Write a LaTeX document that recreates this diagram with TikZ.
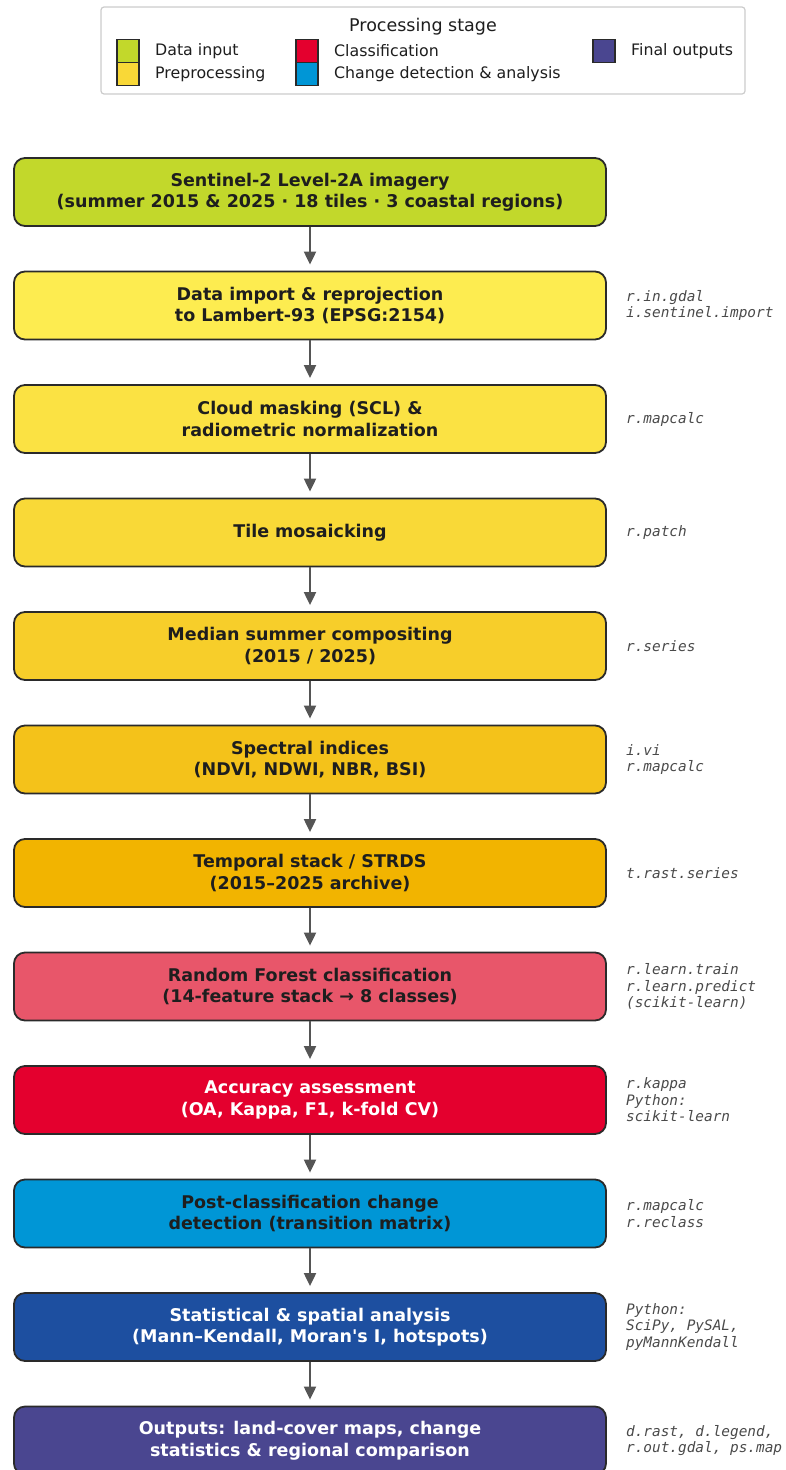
\documentclass[tikz,border=0pt]{standalone}
\usepackage{fontspec}
\setmainfont{DejaVu Sans}
\newfontfamily\toolfont{DejaVu Sans Mono}
\usetikzlibrary{positioning,arrows.meta}

\definecolor{stInput}{HTML}{C2D82B}
\definecolor{stPreA}{HTML}{FDEC50}
\definecolor{stPreB}{HTML}{FBE243}
\definecolor{stPreC}{HTML}{F9D937}
\definecolor{stPreD}{HTML}{F7CE2A}
\definecolor{stPreE}{HTML}{F4C21A}
\definecolor{stPreF}{HTML}{F2B400}
\definecolor{stClassA}{HTML}{E8566A}
\definecolor{stClass}{HTML}{E4002E}
\definecolor{stChange}{HTML}{0096D6}
\definecolor{stStats}{HTML}{1D4FA0}
\definecolor{stOut}{HTML}{4A4690}
\definecolor{stPre}{HTML}{F9D837}
\definecolor{boxline}{HTML}{2A2A2A}
\definecolor{darktext}{HTML}{1E1E1E}
\definecolor{toolgray}{HTML}{4A4A4A}
\definecolor{arrowgray}{HTML}{555555}
\definecolor{legendline}{HTML}{CCCCCC}

\tikzset{
    stagebox/.style={draw=boxline, line width=1.8pt, rounded corners=11pt,
        minimum width=592pt, minimum height=68pt, align=center, inner sep=0pt,
        text=darktext, font=\fontsize{17.5}{21.5}\selectfont\bfseries},
    toollabel/.style={align=left, inner sep=0pt, text=toolgray,
        font=\fontsize{14.4}{16.6}\selectfont\toolfont\itshape},
    legendtext/.style={anchor=west, inner sep=0pt, text=darktext,
        font=\fontsize{15.8}{19}\selectfont},
    flow/.style={-{Triangle[length=13pt,width=12pt]}, line width=2pt,
        draw=arrowgray, shorten >=6pt}
}

\begin{document}
\begin{tikzpicture}[x=1pt,y=-1pt]
                \useasboundingbox (0,0) rectangle (785,1470);

                % Legend
                \draw[legendline, line width=1.2pt, rounded corners=3pt, fill=white] (101,7) rectangle (745,94);
                \node[legendtext, anchor=center, font=\fontsize{17.5}{21}\selectfont] (legtitle) at (423,27) {Processing stage};
                \foreach \i/\col/\x/\y/\name in {1/stInput/117/51/Data input, 2/stPre/117/74/Preprocessing,
                        3/stClass/296/51/Classification, 4/stChange/296/74/Change detection \& analysis,
                        5/stOut/593/51/Final outputs} {
                    \draw[fill=\col, draw=boxline, line width=1.2pt] (\x,\y-11.5) rectangle +(22,23);
                    \node[legendtext] (leg\i) at (\x+38,\y) {\name};
                }

                % Processing chain
                \node[stagebox, fill=stInput] (s1) at (310,192)
                    {Sentinel-2 Level-2A imagery\\(summer 2015 \& 2025 · 18 tiles · 3 coastal regions)};
                \node[stagebox, fill=stPreA, below=43.7pt of s1] (s2)
                    {Data import \& reprojection\\to Lambert-93 (EPSG:2154)};
                \node[stagebox, fill=stPreB, below=43.7pt of s2] (s3)
                    {Cloud masking (SCL) \&\\radiometric normalization};
                \node[stagebox, fill=stPreC, below=43.7pt of s3] (s4)
                    {Tile mosaicking};
                \node[stagebox, fill=stPreD, below=43.7pt of s4] (s5)
                    {Median summer compositing\\(2015 / 2025)};
                \node[stagebox, fill=stPreE, below=43.7pt of s5] (s6)
                    {Spectral indices\\(NDVI, NDWI, NBR, BSI)};
                \node[stagebox, fill=stPreF, below=43.7pt of s6] (s7)
                    {Temporal stack / STRDS\\(2015–2025 archive)};
                \node[stagebox, fill=stClassA, below=43.7pt of s7] (s8)
                    {Random Forest classification\\(14-feature stack → 8 classes)};
                \node[stagebox, fill=stClass, text=white, below=43.7pt of s8] (s9)
                    {Accuracy assessment\\(OA, Kappa, F1, k-fold CV)};
                \node[stagebox, fill=stChange, below=43.7pt of s9] (s10)
                    {Post-classification change\\detection (transition matrix)};
                \node[stagebox, fill=stStats, text=white, below=43.7pt of s10] (s11)
                    {Statistical \& spatial analysis\\(Mann–Kendall, Moran\textquotesingle s I, hotspots)};
                \node[stagebox, fill=stOut, text=white, below=43.7pt of s11] (s12)
                    {Outputs: land-cover maps, change\\statistics \& regional comparison};

                % Tools
                \node[toollabel, right=19pt of s2] (t2) {r.in.gdal\\i.sentinel.import};
                \node[toollabel, right=19pt of s3] (t3) {r.mapcalc};
                \node[toollabel, right=19pt of s4] (t4) {r.patch};
                \node[toollabel, right=19pt of s5] (t5) {r.series};
                \node[toollabel, right=19pt of s6] (t6) {i.vi\\r.mapcalc};
                \node[toollabel, right=19pt of s7] (t7) {t.rast.series};
                \node[toollabel, right=19pt of s8] (t8) {r.learn.train\\r.learn.predict\\(scikit-learn)};
                \node[toollabel, right=19pt of s9] (t9) {r.kappa\\Python:\\scikit-learn};
                \node[toollabel, right=19pt of s10] (t10) {r.mapcalc\\r.reclass};
                \node[toollabel, right=19pt of s11] (t11) {Python:\\SciPy, PySAL,\\pyMannKendall};
                \node[toollabel, right=19pt of s12] (t12) {d.rast, d.legend,\\r.out.gdal, ps.map};

                % Arrows
                \foreach \a/\b in {s1/s2, s2/s3, s3/s4, s4/s5, s5/s6, s6/s7, s7/s8, s8/s9, s9/s10, s10/s11, s11/s12} {
                    \draw[flow] (\a) -- (\b);
                }
            \end{tikzpicture}
\end{document}
